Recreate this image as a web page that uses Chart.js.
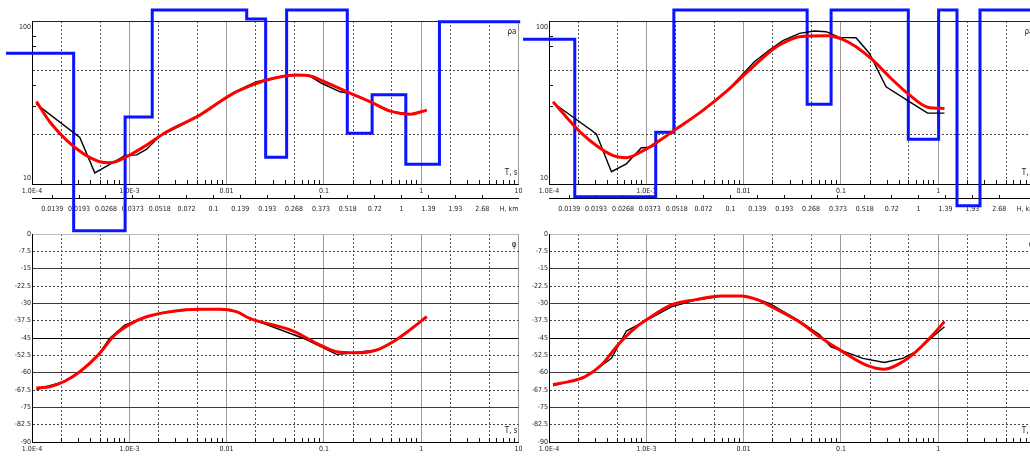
<!DOCTYPE html>
<html>
<head>
<meta charset="utf-8">
<script src="https://cdn.jsdelivr.net/npm/chart.js@4.4.1/dist/chart.umd.min.js"></script>
<style>
  html, body { margin: 0; padding: 0; background: #fff; overflow: hidden; }
  #wrap { position: relative; width: 1030px; height: 457px; overflow: hidden; background: #fff; }
  canvas { position: absolute; }
</style>
</head>
<body>
<div id="wrap">
  <canvas id="phaseLeft" width="522" height="232" style="left:0;top:225px"></canvas>
  <canvas id="phaseRight" width="522" height="232" style="left:517px;top:225px"></canvas>
  <canvas id="rhoLeft" width="522" height="240" style="left:0;top:0"></canvas>
  <canvas id="rhoRight" width="522" height="240" style="left:517px;top:0"></canvas>
</div>
<script>
// axes
const decades = [1e-4, 1e-3, 0.01, 0.1, 1, 10];
const decadeLabels = ["1.0E-4", "1.0E-3", "0.01", "0.1", "1", "10"];
const depthLabels = ["0.0139", "0.0193", "0.0268", "0.0373", "0.0518", "0.072", "0.1", "0.139",
  "0.193", "0.268", "0.373", "0.518", "0.72", "1", "1.39", "1.93", "2.68", "H, km"];
const rhoTicks = [10, 20, 30, 40, 50, 70, 80, 100];
const phaseTicks = [0, -7.5, -15, -22.5, -30, -37.5, -45, -52.5, -60, -67.5, -75, -82.5, -90];

// left site, apparent resistivity
const leftRhoBlackT = [1.11e-4, 3.10e-4, 4.42e-4, 6.56e-4, 8.99e-4, 1.19e-3, 1.50e-3, 2.06e-3, 5.31e-3, 0.0117, 0.0161, 0.0204, 0.0382, 0.069, 0.0948, 0.147, 0.186, 0.322, 0.479, 0.769, 1.14];
const leftRhoBlack = [30.9, 19.3, 11.7, 13.4, 14.9, 15.1, 16.3, 19.7, 26.2, 36.2, 39.9, 42.4, 46, 46.6, 41.5, 36.8, 36, 31.3, 28, 26.8, 28.4];
const leftRhoRedT = [1.11e-4, 1.52e-4, 2.26e-4, 3.35e-4, 4.97e-4, 6.31e-4, 9.35e-4, 1.50e-3, 2.42e-3, 5.31e-3, 0.0117, 0.0204, 0.0258, 0.0525, 0.072, 0.107, 0.172, 0.298, 0.479, 0.769, 1.14];
const leftRhoRed = [32, 24.1, 18.6, 15.4, 13.7, 13.5, 14.7, 17.3, 20.9, 26.5, 36, 41.5, 43.5, 46.6, 46, 41.8, 36.8, 32, 28, 26.8, 28.4];
const leftModelT = [5.4e-5, 2.68e-4, 9.06e-4, 1.72e-3, 0.0161, 0.0252, 0.0414, 0.174, 0.313, 0.695, 1.54, 10.4];
const leftModelRho = [63.4, 5.17, 25.8, 117, 103, 14.6, 117, 20.5, 35.3, 13.2, 99, 99];

// right site, apparent resistivity
const rightRhoBlackT = [1.10e-4, 3.07e-4, 4.38e-4, 6.24e-4, 8.89e-4, 1.12e-3, 1.95e-3, 3.67e-3, 6.89e-3, 0.0129, 0.0184, 0.0253, 0.0375, 0.0535, 0.0705, 0.0966, 0.143, 0.196, 0.291, 0.505, 0.778, 1.16];
const rightRhoBlack = [31.5, 20.3, 11.9, 13.3, 16.7, 16.8, 21.4, 27.8, 37.7, 56.3, 66.4, 75.7, 84, 86.9, 86, 79.4, 79, 63.4, 39.5, 32, 27.2, 27.2];
const rightRhoRedT = [1.10e-4, 2.15e-4, 4.38e-4, 6.24e-4, 9.62e-4, 1.32e-3, 1.95e-3, 3.67e-3, 6.89e-3, 0.011, 0.0207, 0.0253, 0.0375, 0.0731, 0.104, 0.143, 0.212, 0.315, 0.505, 0.778, 1.16];
const rightRhoRed = [32, 20.5, 15.1, 14.5, 16.2, 18.2, 21.4, 27.8, 37.7, 48.9, 68, 73, 80.1, 81.3, 77.2, 69.5, 57.7, 45.5, 35.2, 29.6, 29.1];
const rightModelT = [5.41e-5, 1.84e-4, 1.25e-3, 1.92e-3, 0.045, 0.0793, 0.493, 1.01, 1.56, 2.69, 10.5];
const rightModelRho = [77.2, 8.36, 20.8, 117, 30.8, 117, 18.8, 117, 7.36, 117, 117];

// phases
const leftPhaseRedT = [1.11e-4, 1.52e-4, 2.17e-4, 3.10e-4, 4.78e-4, 7.08e-4, 1.01e-3, 1.50e-3, 2.61e-3, 5.31e-3, 8.51e-3, 0.0126, 0.0173, 0.0483, 0.0841, 0.135, 0.217, 0.348, 0.515, 0.766, 1.14];
const leftPhaseRed = [-66.6, -66.1, -63.7, -59.6, -52.4, -43.7, -39.1, -35.8, -33.6, -32.6, -32.6, -33.6, -36.5, -42, -47.3, -50.9, -51.4, -50.2, -46.6, -41.5, -35.8];
const leftPhaseBlackT = [1.11e-4, 2.08e-4, 3.10e-4, 4.78e-4, 6.30e-4, 8.97e-4, 1.50e-3, 2.61e-3, 5.31e-3, 8.51e-3, 0.0126, 0.0173, 0.0612, 0.135, 0.185, 0.348, 0.515, 0.766, 1.14];
const leftPhaseBlack = [-67.3, -64, -59.6, -52.4, -45.1, -39.4, -35.8, -33.6, -32.6, -32.6, -33.6, -36.5, -45.1, -52.1, -51.6, -50.2, -46.6, -41.5, -35.8];
const rightPhaseRedT = [1.10e-4, 1.57e-4, 2.33e-4, 3.45e-4, 5.11e-4, 7.59e-4, 1.12e-3, 1.81e-3, 3.13e-3, 5.89e-3, 9.45e-3, 0.014, 0.0184, 0.037, 0.0601, 0.104, 0.182, 0.28, 0.431, 0.592, 0.877, 1.16];
const rightPhaseRed = [-65.1, -64, -61.8, -56.7, -48, -40.8, -35.8, -30.7, -28.5, -26.8, -26.8, -28.5, -31, -37.9, -44.4, -50.9, -56.7, -58.5, -55.3, -50.9, -43.7, -37.9];
const rightPhaseBlackT = [1.10e-4, 2.33e-4, 3.45e-4, 4.38e-4, 6.24e-4, 1.12e-3, 1.81e-3, 3.13e-3, 5.89e-3, 9.45e-3, 0.014, 0.0184, 0.037, 0.0601, 0.0791, 0.168, 0.28, 0.431, 0.592, 0.877, 1.16];
const rightPhaseBlack = [-65.7, -61.8, -57, -53.8, -42, -36.3, -31.5, -28.7, -27, -26.8, -28.3, -30, -37.5, -43.5, -48.8, -53.8, -55.6, -53.8, -50.9, -44.4, -40.1];

const font = { family: "'Liberation Sans Narrow', 'DejaVu Sans Condensed', 'Liberation Sans', sans-serif", size: 7 };
const textColor = "#222";
const NONE = "rgba(0,0,0,0)";

function pts(xs, ys) {
  return xs.map((x, i) => ({ x: x, y: ys[i] }));
}

function mantissa(v) {
  const p = Math.pow(10, Math.floor(Math.log10(v) + 1e-9));
  return Math.round(v / p);
}

function zeroPad(s) {
  s.paddingLeft = 0;
  s.paddingRight = 0;
  s.paddingTop = 0;
  s.paddingBottom = 0;
}

function periodTicks() {
  const out = [];
  decades.forEach((d, i) => {
    out.push({ value: d });
    if (i < decades.length - 1) {
      for (let m = 2; m <= 9; m++) out.push({ value: d * m });
    }
  });
  return out;
}

function periodAxis(height, padding) {
  return {
    type: "logarithmic",
    position: "bottom",
    weight: 0,
    min: decades[0],
    max: decades[decades.length - 1],
    afterBuildTicks: (s) => { s.ticks = periodTicks(); },
    afterFit: (s) => { s.height = height; zeroPad(s); },
    ticks: {
      autoSkip: false, maxRotation: 0, padding: padding, font: font, color: textColor,
      callback: (v) => {
        const i = decades.findIndex((d) => Math.abs(d - v) / d < 1e-6);
        return i >= 0 ? decadeLabels[i] : "";
      },
    },
    grid: {
      tickLength: -4,
      color: (c) => {
        if (!c.tick || c.tick.value <= decades[0] * 1.001) return NONE;
        const m = mantissa(c.tick.value);
        if (m === 1) return "#9a9a9a";
        if (m === 2 || m === 5) return "#555";
        return NONE;
      },
      tickColor: (c) => (c.tick && mantissa(c.tick.value) !== 1 ? "#111" : NONE),
    },
    border: {
      color: "#000",
      dash: (c) => (c.tick && [2, 5].includes(mantissa(c.tick.value)) ? [2, 2] : []),
    },
  };
}

const cornerText = {
  id: "cornerText",
  afterDraw(chart, args, opts) {
    const a = chart.chartArea;
    const c = chart.ctx;
    c.save();
    c.font = "8px 'Liberation Sans Narrow', 'DejaVu Sans Condensed', sans-serif";
    c.fillStyle = textColor;
    c.textAlign = "right";
    c.textBaseline = "middle";
    if (opts.bottom) c.fillText(opts.bottom, a.right - 1, a.bottom - 11);
    if (opts.top) c.fillText(opts.top, a.right - 2, a.top + 11);
    c.restore();
  },
};

function lineSets(redPts, blackPts) {
  return [
    { data: redPts, borderColor: "#ff0000", borderWidth: 3, pointRadius: 0, cubicInterpolationMode: "monotone" },
    { data: blackPts, borderColor: "#000", borderWidth: 1.4, pointRadius: 0, tension: 0 },
  ];
}

function rhoChart(id, redT, red, blackT, black, modelT, model) {
  const sets = lineSets(pts(redT, red), pts(blackT, black));
  sets.push({ data: pts(modelT, model), borderColor: "#0a14ff", borderWidth: 3, pointRadius: 0, stepped: "before", clip: false });
  return new Chart(document.getElementById(id), {
    type: "line",
    data: { datasets: sets },
    options: {
      responsive: false, animation: false, devicePixelRatio: 1,
      layout: { padding: { top: 21, right: 3.5, left: 0, bottom: 0 } },
      plugins: { legend: { display: false }, tooltip: { enabled: false }, cornerText: { bottom: "T, s", top: "ρa" } },
      scales: {
        x: periodAxis(14, 6.6),
        h: {
          type: "linear", position: "bottom", weight: 1, bounds: "data",
          min: -0.75, max: 17.35,
          afterBuildTicks: (s) => { s.ticks = depthLabels.map((_, i) => ({ value: i })); },
          afterFit: (s) => { s.height = 42; zeroPad(s); },
          ticks: { autoSkip: false, maxRotation: 0, padding: 9.5, font: font, color: textColor, callback: (v) => depthLabels[v] || "" },
          grid: { drawOnChartArea: false, tickLength: -3, tickColor: (c) => (c.tick && c.tick.value < depthLabels.length - 1 ? "#111" : NONE) },
          border: { color: "#000" },
        },
        y: {
          type: "logarithmic", position: "left", min: 10, max: 100,
          afterBuildTicks: (s) => { s.ticks = rhoTicks.map((v) => ({ value: v })); },
          afterFit: (s) => { s.width = 32; zeroPad(s); },
          ticks: {
            autoSkip: false, padding: 5, color: textColor, font: Object.assign({}, font, { lineHeight: 1.7 }),
            callback: (v) => (v === 100 ? ["", "100"] : v === 10 ? ["10", ""] : ""),
          },
          grid: {
            tickLength: -4,
            color: (c) => {
              const v = c.tick ? c.tick.value : 0;
              if (v === 20 || v === 50) return "#444";
              if (v === 100) return "#222";
              return NONE;
            },
            tickColor: (c) => (c.tick && [30, 40, 70, 80].includes(c.tick.value) ? "#111" : NONE),
          },
          border: { color: "#000", dash: (c) => (c.tick && (c.tick.value === 20 || c.tick.value === 50) ? [2, 2] : []) },
        },
      },
    },
    plugins: [cornerText],
  });
}

function phaseChart(id, redT, red, blackT, black) {
  return new Chart(document.getElementById(id), {
    type: "line",
    data: { datasets: lineSets(pts(redT, red), pts(blackT, black)) },
    options: {
      responsive: false, animation: false, devicePixelRatio: 1,
      layout: { padding: { top: 9, right: 3.5, left: 0, bottom: 0 } },
      plugins: { legend: { display: false }, tooltip: { enabled: false }, cornerText: { bottom: "T, s", top: "φ" } },
      scales: {
        x: periodAxis(15, 7),
        y: {
          type: "linear", position: "left", min: -90, max: 0, bounds: "data",
          afterBuildTicks: (s) => { s.ticks = phaseTicks.map((v) => ({ value: v })); },
          afterFit: (s) => { s.width = 32; zeroPad(s); },
          ticks: { autoSkip: false, padding: 1, font: font, color: textColor, callback: (v) => String(v) },
          grid: {
            drawTicks: false,
            color: (c) => {
              const v = c.tick ? c.tick.value : -90;
              if (v === -90) return NONE;
              if (v === 0) return "#bbb";
              if (v === -45) return "#000";
              return v % 15 === 0 ? "#3a3a3a" : "#444";
            },
          },
          border: { color: "#000", dash: (c) => (c.tick && c.tick.value % 15 !== 0 ? [2, 2] : []) },
        },
      },
    },
    plugins: [cornerText],
  });
}

rhoChart("rhoLeft", leftRhoRedT, leftRhoRed, leftRhoBlackT, leftRhoBlack, leftModelT, leftModelRho);
rhoChart("rhoRight", rightRhoRedT, rightRhoRed, rightRhoBlackT, rightRhoBlack, rightModelT, rightModelRho);
phaseChart("phaseLeft", leftPhaseRedT, leftPhaseRed, leftPhaseBlackT, leftPhaseBlack);
phaseChart("phaseRight", rightPhaseRedT, rightPhaseRed, rightPhaseBlackT, rightPhaseBlack);
</script>
</body>
</html>
